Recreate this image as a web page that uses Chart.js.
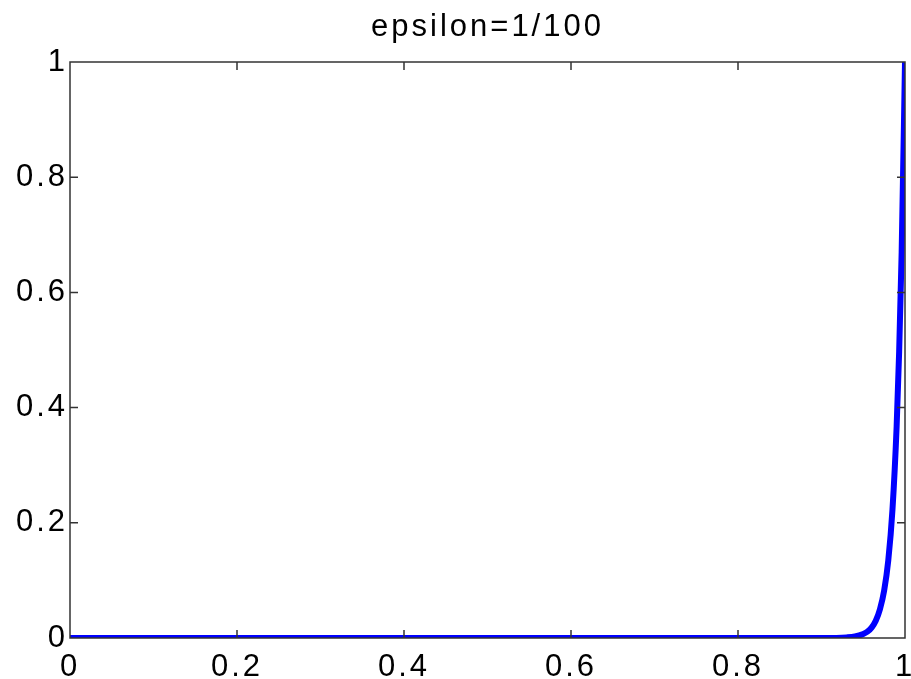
<!DOCTYPE html>
<html>
<head>
    <title>epsilon=1/100</title>
    <script src="https://cdn.jsdelivr.net/npm/chart.js@4.4.1/dist/chart.umd.min.js"></script>
    <style>
        body { margin: 0; background: #fff; }
        #wrap { width: 911px; height: 679px; }
    </style>
</head>
<body>
<div id="wrap"><canvas id="myChart"></canvas></div>
<script>
    // punkty krzywej
    const xs = [0, 0.6, 0.9, 0.93, 0.94, 0.95, 0.955, 0.96, 0.965, 0.97, 0.975, 0.98, 0.985, 0.99, 0.993, 0.996, 1];
    const ys = [0, 0, 0.0001, 0.001, 0.0025, 0.007, 0.011, 0.018, 0.03, 0.05, 0.082, 0.135, 0.223, 0.368, 0.497, 0.67, 1];

    // podzialki osi
    const xTicks = [0, 0.2, 0.4, 0.6, 0.8, 1];
    const xLabels = ['0', '0.2', '0.4', '0.6', '0.8', '1'];
    const yTicks = [0, 0.2, 0.4, 0.6, 0.8, 1];
    const yLabels = ['0', '0.2', '0.4', '0.6', '0.8', '1'];

    const tytul = 'epsilon=1/100';

    const punkty = xs.map((x, i) => ({ x: x, y: ys[i] }));

    // odstep liter jak na obrazku (szerszy tekst)
    const spacing = {
        id: 'spacing',
        beforeLayout(chart) { chart.ctx.letterSpacing = '3px'; },
        beforeDraw(chart) { chart.ctx.letterSpacing = '3px'; }
    };

    // ramka i kreski podzialki do srodka, jak w matlabie
    const ramka = {
        id: 'ramka',
        afterDatasetsDraw(chart) {
            const ctx = chart.ctx;
            const a = chart.chartArea;
            const sx = chart.scales.x, sy = chart.scales.y;
            const len = 8;
            ctx.save();
            ctx.strokeStyle = '#333';
            ctx.lineWidth = 1.5;
            ctx.beginPath();
            ctx.rect(a.left, a.top, a.right - a.left, a.bottom - a.top);
            xTicks.forEach(v => {
                const px = sx.getPixelForValue(v);
                ctx.moveTo(px, a.bottom); ctx.lineTo(px, a.bottom - len);
                ctx.moveTo(px, a.top); ctx.lineTo(px, a.top + len);
            });
            yTicks.forEach(v => {
                const py = sy.getPixelForValue(v);
                ctx.moveTo(a.left, py); ctx.lineTo(a.left + len, py);
                ctx.moveTo(a.right, py); ctx.lineTo(a.right - len, py);
            });
            ctx.stroke();
            ctx.restore();
        }
    };

    function bezPaddingu(scale) {
        scale.paddingLeft = 0; scale.paddingRight = 0;
        scale.paddingTop = 0; scale.paddingBottom = 0;
    }

    const ctx = document.getElementById('myChart').getContext('2d');
    const myChart = new Chart(ctx, {
        type: 'line',
        data: {
            datasets: [{
                label: tytul,
                data: punkty,
                borderColor: '#0000ff',
                borderWidth: 6,
                pointRadius: 0,
                cubicInterpolationMode: 'monotone',
                fill: false
            }]
        },
        options: {
            responsive: true,
            maintainAspectRatio: false,
            animation: false,
            layout: { padding: { left: 0, right: 6, top: 0, bottom: 0 } },
            scales: {
                x: {
                    type: 'linear',
                    min: 0,
                    max: 1,
                    grid: { display: false, drawTicks: false },
                    border: { display: false },
                    afterBuildTicks: s => { s.ticks = xTicks.map(v => ({ value: v })); },
                    afterFit: s => { s.height = 41; bezPaddingu(s); },
                    ticks: {
                        maxRotation: 0,
                        autoSkip: false,
                        padding: 11,
                        color: '#000',
                        font: { family: 'Liberation Sans, Arial', size: 31 },
                        callback: (v, i) => xLabels[i]
                    }
                },
                y: {
                    type: 'linear',
                    min: 0,
                    max: 1,
                    grid: { display: false, drawTicks: false },
                    border: { display: false },
                    afterBuildTicks: s => { s.ticks = yTicks.map(v => ({ value: v })); },
                    afterFit: s => { s.width = 70; bezPaddingu(s); },
                    ticks: {
                        autoSkip: false,
                        padding: 2,
                        color: '#000',
                        font: { family: 'Liberation Sans, Arial', size: 31 },
                        callback: (v, i) => yLabels[i]
                    }
                }
            },
            plugins: {
                legend: { display: false },
                tooltip: { enabled: false },
                title: {
                    display: true,
                    text: tytul,
                    fullSize: false,
                    color: '#000',
                    padding: { top: 9, bottom: 17 },
                    font: { family: 'Liberation Sans, Arial', size: 31, weight: 'normal', lineHeight: 1.16 }
                }
            }
        },
        plugins: [spacing, ramka]
    });
</script>
</body>
</html>
